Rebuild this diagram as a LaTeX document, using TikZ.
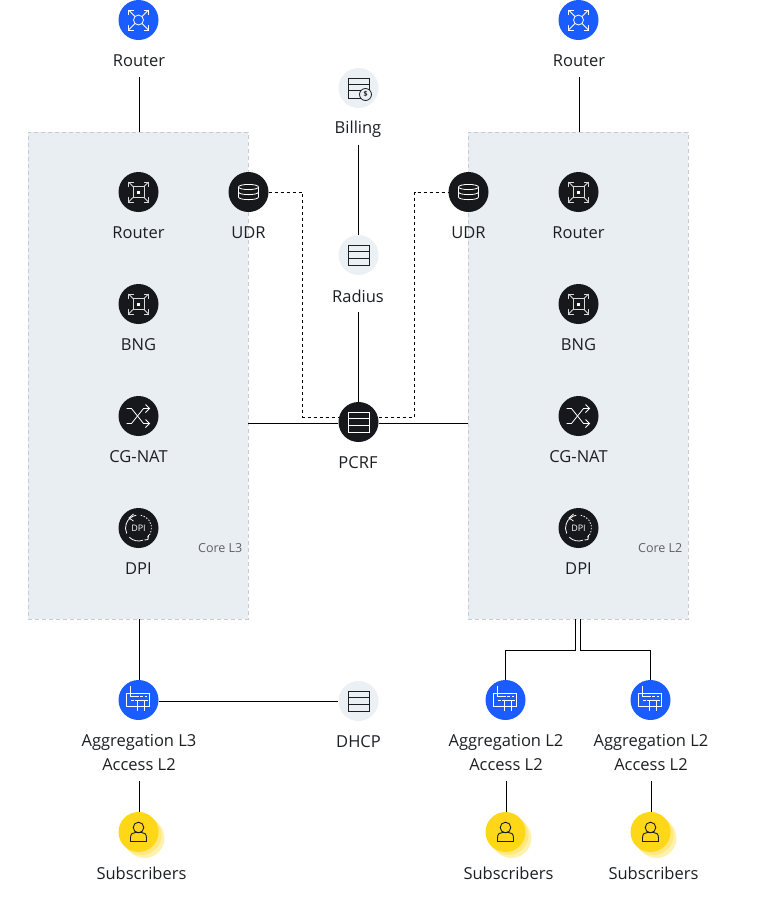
\documentclass[tikz,border=0pt]{standalone}
\usepackage{fontspec}
\setmainfont{Open Sans}
\usetikzlibrary{backgrounds,calc}
\definecolor{ink}{HTML}{1C1F22}
\definecolor{coal}{HTML}{16181B}
\definecolor{azure}{HTML}{1A5CFF}
\definecolor{mist}{HTML}{EBF0F4}
\definecolor{corefill}{HTML}{E9EEF2}
\definecolor{coreedge}{HTML}{C5CBD0}
\definecolor{sun}{HTML}{FFD719}
\tikzset{
  hub/.style={circle, minimum size=40, inner sep=0, fill=#1},
  lbl/.style={inner sep=0, yshift=-1pt, minimum height=32, text=ink, font=\fontsize{16.5}{24}\selectfont},
  lbltwo/.style={lbl, align=center, minimum height=56},
  corelbl/.style={anchor=east, inner sep=0, text=ink!70, font=\fontsize{12.5}{14}\selectfont},
  corebox/.style={draw=coreedge, fill=corefill, dash pattern=on 4 off 3, minimum width=220, minimum height=487, inner sep=0},
  wire/.style={draw=black, line width=1},
  dashwire/.style={draw=black, line width=1, dash pattern=on 3 off 3},
  expandicon/.pic={
    \foreach \sx/\sy in {-1/-1,1/-1,1/1,-1/1} {
      \draw[white, line width=.8] (\sx*10,\sy*10) -- (\sx*3.6,\sy*3.6);
      \draw[white, line width=.8] (\sx*10,\sy*5) -- (\sx*10,\sy*10) -- (\sx*5,\sy*10);
    }
    \draw[white, line width=.8] (0,0) circle (5pt);
  },
  boxedicon/.pic={
    \foreach \sx/\sy in {-1/-1,1/-1,1/1,-1/1} {
      \draw[white!85!black, line width=.8] (\sx*10,\sy*10) -- (\sx*5.5,\sy*5.5);
      \draw[white!85!black, line width=.8] (\sx*10,\sy*5) -- (\sx*10,\sy*10) -- (\sx*5,\sy*10);
    }
    \draw[white!85!black, line width=.8] (-5.5,-5.5) rectangle (5.5,5.5);
    \fill[white] (-1.5,-1.5) rectangle (1.5,1.5);
  },
  shuffleicon/.pic={
    \draw[white, line width=.8] (-12,-7.5) -- (-7,-7.5) -- (5,7.5) -- (11,7.5);
    \draw[white, line width=.8] (-12,7.5) -- (-7,7.5) -- (5,-7.5) -- (11,-7.5);
    \draw[white, line width=.8] (7,-11.5) -- (11,-7.5) -- (7,-3.5);
    \draw[white, line width=.8] (7,3.5) -- (11,7.5) -- (7,11.5);
  },
  dpiicon/.pic={
    \draw[white, line width=.8] (0,0) ++(290:13pt) arc[start angle=290, end angle=225, radius=13pt];
    \draw[white, line width=.8] (0,0) ++(100:13pt) arc[start angle=100, end angle=205, radius=13pt];
    \draw[white, line width=.8, dash pattern=on 1.5 off 1.5] (0,0) ++(80:13pt) arc[start angle=80, end angle=-50, radius=13pt];
    \draw[white, line width=.8] (-5,-14) -- (-9.5,-10) -- (-5,-7);
    \draw[white, line width=.8] (6,12) -- (9.5,11.5) -- (10,7);
    \node[white, inner sep=0, font=\fontsize{9}{10}\selectfont] (dpitxt) at (0,0) {DPI};
  },
  dbicon/.pic={
    \draw[white, line width=.8] (0,-5) ellipse (10pt and 2.6pt);
    \draw[white, line width=.8] (-10,-5) -- (-10,5) .. controls (-10,8.5) and (10,8.5) .. (10,5) -- (10,-5);
    \draw[white, line width=.8] (-10,0) .. controls (-10,3.5) and (10,3.5) .. (10,0);
  },
  tableicon/.pic={
    \draw[pic actions, line width=.8] (-10.5,-10) rectangle (10.5,10);
    \draw[pic actions, line width=.8] (-10.5,-3.3) -- (10.5,-3.3);
    \draw[pic actions, line width=.8] (-10.5,3.3) -- (10.5,3.3);
  },
  billicon/.pic={
    \draw[ink, line width=.8] (-10.5,-10) rectangle (10.5,10);
    \draw[ink, line width=.8] (-10.5,-4) -- (10.5,-4);
    \draw[ink, line width=.8] (-10.5,2) -- (10.5,2);
    \draw[ink, fill=mist, line width=.8] (7,6.5) circle (6pt);
    \node[ink, inner sep=0, font=\fontsize{7}{7}\selectfont\bfseries] (dollar) at (7,6.5) {\$};
  },
  aggicon/.pic={
    \draw[white, line width=.8] (-11.7,-6.7) rectangle (10.7,6);
    \draw[white, line width=.8] (-7.7,-14.3) -- (-7.7,-3.3) -- (-3,-3.3);
    \draw[white, line width=.8, dash pattern=on 3 off 1.5] (-3,-3.3) -- (8,-3.3);
    \draw[white, line width=.8, dash pattern=on 3 off 1.5] (-7.7,.7) -- (-1,.7);
    \draw[white, line width=.8] (-1,.7) -- (9,.7);
    \draw[white, line width=.8] (-.7,.7) -- (-.7,11);
    \draw[white, line width=.8] (6,.7) -- (6,11);
  },
  personicon/.pic={
    \draw[ink, line width=.9] (0,-4.5) circle (5.3pt);
    \draw[ink, line width=.9] (-8,9.5) -- (-8,6) .. controls (-8,1.5) and (-5.5,.5) .. (-3,.5) -- (3,.5) .. controls (5.5,.5) and (8,1.5) .. (8,6) -- (8,9.5) -- cycle;
  }
}
\begin{document}
\begin{tikzpicture}[x=1pt, y=-1pt]
  \useasboundingbox (0,0) rectangle (764,906);

  % top row
  \node[hub=azure] (rt1) at (138.5,20) {};
  \node[hub=azure] (rt2) at (578.5,20) {};
  \node[lbl] (rt1l) at (139,60) {Router};
  \node[lbl] (rt2l) at (579,60) {Router};
  \pic at (rt1) {expandicon};
  \pic at (rt2) {expandicon};

  % middle column
  \node[hub=mist] (bill) at (358.5,88) {};
  \node[lbl] (billl) at (358,128) {Billing};
  \node[hub=mist] (rad) at (358.5,255) {};
  \node[lbl] (radl) at (358,295) {Radius};
  \node[hub=coal] (pcrf) at (358.5,422) {};
  \node[lbl] (pcrfl) at (358,462) {PCRF};
  \pic at (bill) {billicon};
  \pic[draw=ink] at (rad) {tableicon};
  \pic[draw=white] at (pcrf) {tableicon};

  % left core
  \node[hub=coal] (a1) at (138.5,192) {};
  \node[lbl] (a1l) at (138.5,232) {Router};
  \node[hub=coal] (a2) at (138.5,304) {};
  \node[lbl] (a2l) at (138.5,344) {BNG};
  \node[hub=coal] (a3) at (138.5,416) {};
  \node[lbl] (a3l) at (138.5,456) {CG-NAT};
  \node[hub=coal] (a4) at (138.5,528) {};
  \node[lbl] (a4l) at (138.5,568) {DPI};
  \node[hub=coal] (udr1) at (248.5,192) {};
  \node[lbl] (udr1l) at (248.5,232) {UDR};
  \node[corelbl] (core1l) at (242.5,548.5) {Core L3};
  \pic at (a1) {boxedicon};
  \pic at (a2) {boxedicon};
  \pic at (a3) {shuffleicon};
  \pic at (a4) {dpiicon};
  \pic at (udr1) {dbicon};

  % right core
  \node[hub=coal] (b1) at (578.5,192) {};
  \node[lbl] (b1l) at (578.5,232) {Router};
  \node[hub=coal] (b2) at (578.5,304) {};
  \node[lbl] (b2l) at (578.5,344) {BNG};
  \node[hub=coal] (b3) at (578.5,416) {};
  \node[lbl] (b3l) at (578.5,456) {CG-NAT};
  \node[hub=coal] (b4) at (578.5,528) {};
  \node[lbl] (b4l) at (578.5,568) {DPI};
  \node[hub=coal] (udr2) at (468.5,192) {};
  \node[lbl] (udr2l) at (468.5,232) {UDR};
  \node[corelbl] (core2l) at (682.5,548.5) {Core L2};
  \pic at (b1) {boxedicon};
  \pic at (b2) {boxedicon};
  \pic at (b3) {shuffleicon};
  \pic at (b4) {dpiicon};
  \pic at (udr2) {dbicon};

  % bottom row
  \node[hub=azure] (ag1) at (138.5,700) {};
  \node[lbltwo] (ag1l) at (139,752) {Aggregation L3\\Access L2};
  \node[hub=azure] (ag2) at (505.5,700) {};
  \node[lbltwo] (ag2l) at (506,752) {Aggregation L2\\Access L2};
  \node[hub=azure] (ag3) at (650.5,700) {};
  \node[lbltwo] (ag3l) at (651,752) {Aggregation L2\\Access L2};
  \node[hub=mist] (dhcp) at (358.5,701) {};
  \node[lbl] (dhcpl) at (358.5,741) {DHCP};
  \pic at (ag1) {aggicon};
  \pic at (ag2) {aggicon};
  \pic at (ag3) {aggicon};
  \pic[draw=ink] at (dhcp) {tableicon};

  \node[hub=sun!35] (s1c) at (144.5,838) {};
  \node[hub=sun!55] (s1b) at (141.5,835) {};
  \node[hub=sun] (s1) at (138.5,832) {};
  \node[lbl] (s1l) at (141.5,872) {Subscribers};
  \node[hub=sun!35] (s2c) at (511.5,838) {};
  \node[hub=sun!55] (s2b) at (508.5,835) {};
  \node[hub=sun] (s2) at (505.5,832) {};
  \node[lbl] (s2l) at (508.5,872) {Subscribers};
  \node[hub=sun!35] (s3c) at (656.5,838) {};
  \node[hub=sun!55] (s3b) at (653.5,835) {};
  \node[hub=sun] (s3) at (650.5,832) {};
  \node[lbl] (s3l) at (653.5,872) {Subscribers};
  \pic at (s1) {personicon};
  \pic at (s2) {personicon};
  \pic at (s3) {personicon};

  \coordinate (dl) at (302.5,417);
  \coordinate (dr) at (414.5,417);
  \coordinate (j2) at (505.5,650);
  \coordinate (j3) at (650.5,650);

  \begin{scope}[on background layer]
    \node[corebox] (core1) at (138,375.5) {};
    \node[corebox] (core2) at (578,375.5) {};
    \draw[wire] (rt1l.south) -- (rt1l.south |- core1.north);
    \draw[wire] (rt2l.south) -- (rt2l.south |- core2.north);
    \draw[wire] (billl.south) -- (billl.south |- rad.north);
    \draw[wire] (radl.south) -- (radl.south |- pcrf.north);
    \draw[wire] ([yshift=-1.5pt]pcrf.west -| core1.east) -- ([yshift=-1.5pt]pcrf.west);
    \draw[wire] ([yshift=-1.5pt]pcrf.east) -- ([yshift=-1.5pt]pcrf.east -| core2.west);
    \draw[dashwire] (udr1.east) -- (udr1.east -| dl) -- (dl) -- (dl -| pcrf.west);
    \draw[dashwire] (dr -| pcrf.east) -- (dr) -- (dr |- udr2.west) -- (udr2.west);
    \draw[wire] ([xshift=1pt]core1.south) -- ([xshift=1pt]core1.south |- ag1.north);
    \draw[wire] ([yshift=-.5pt]dhcp.west -| ag1.east) -- ([yshift=-.5pt]dhcp.west);
    \draw[wire] ([xshift=-2.5pt]core2.south) |- (j2) -- (ag2.north);
    \draw[wire] ([xshift=2.5pt]core2.south) |- (j3) -- (ag3.north);
    \draw[wire] (ag1l.south) -- (ag1l.south |- s1.north);
    \draw[wire] (ag2l.south) -- (ag2l.south |- s2.north);
    \draw[wire] (ag3l.south) -- (ag3l.south |- s3.north);
  \end{scope}
\end{tikzpicture}
\end{document}
